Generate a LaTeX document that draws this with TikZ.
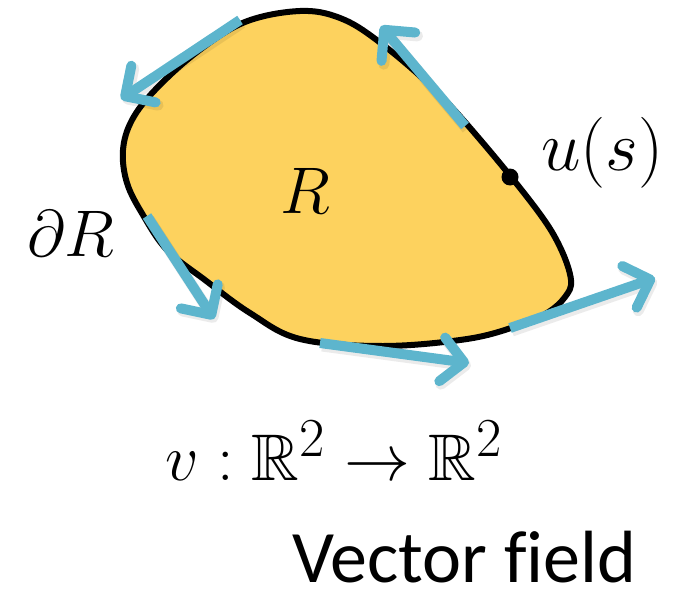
\documentclass[tikz,border=0pt]{standalone}
\usepackage{amssymb}
\usepackage{fontspec}
\newfontfamily\calibri[Ligatures=NoCommon]{Carlito}
\usetikzlibrary{arrows.meta}
\definecolor{regionfill}{RGB}{253,210,94}
\definecolor{vecblue}{RGB}{93,181,205}
\newcommand{\bigmath}[2][2.65]{\scalebox{#1}{\fontsize{24.88}{30}\selectfont$#2$}}
\tikzset{
  vecarrow/.style={draw=vecblue, line width=10pt, line cap=butt,
    -{Straight Barb[round, length=22pt, width=44pt]}},
  vecshadow/.style={draw=black, opacity=0.08, line width=11pt,
    -{Straight Barb[round, length=22pt, width=44pt]}},
  mathlabel/.style={inner sep=0pt},
}
\begin{document}
\begin{tikzpicture}[x=1pt,y=-1pt]
\useasboundingbox (0,0) rectangle (687,591);
% region
\draw[fill=regionfill, line width=6pt, line join=round]
  plot[smooth cycle, tension=0.6] coordinates {
   (300,11) (340,18) (378,41) (433,88) (483,143) (537,210) (560,247)
   (571,280) (565,297) (547,313) (517,326) (467,339) (383,346)
   (300,339) (250,313) (205,280) (167,250) (143,215) (127,183)
   (123,150) (132,120) (155,90) (197,52) (245,22)};
% tangent vectors
\coordinate (a1s) at (240,20);  \coordinate (a1e) at (121,99);
\coordinate (a2s) at (465,126); \coordinate (a2e) at (381,26);
\coordinate (a3s) at (147,216); \coordinate (a3e) at (214,319);
\coordinate (a4s) at (320,343); \coordinate (a4e) at (469,363);
\coordinate (a5s) at (510,328); \coordinate (a5e) at (655,278);
\foreach \s/\e in {a1s/a1e,a2s/a2e,a3s/a3e,a4s/a4e,a5s/a5e}{
  \draw[vecshadow, transform canvas={shift={(2pt,-3pt)}}] (\s) -- (\e);
}
\foreach \s/\e in {a1s/a1e,a2s/a2e,a3s/a3e,a4s/a4e,a5s/a5e}{
  \draw[vecarrow] (\s) -- (\e);
}
% point u(s)
\node[circle, fill=black, inner sep=0pt, minimum size=17pt] (dot) at (510,177) {};
% labels
\node[mathlabel, anchor=base west] (us) at (541,170) {\bigmath[2.85]{u(s)}};
\node[mathlabel, anchor=base] (rlabel) at (305,213) {\bigmath{R}};
\node[mathlabel, anchor=base west] (dr) at (27,256) {\bigmath{\partial R}};
\node[mathlabel, anchor=base west] (map) at (165,480) {\bigmath{v:\mathbb{R}^2\rightarrow\mathbb{R}^2}};
\node[inner sep=0pt, anchor=base west, font=\calibri\fontsize{74}{80}\selectfont] (vf) at (292,582) {Vector field};
\end{tikzpicture}
\end{document}
